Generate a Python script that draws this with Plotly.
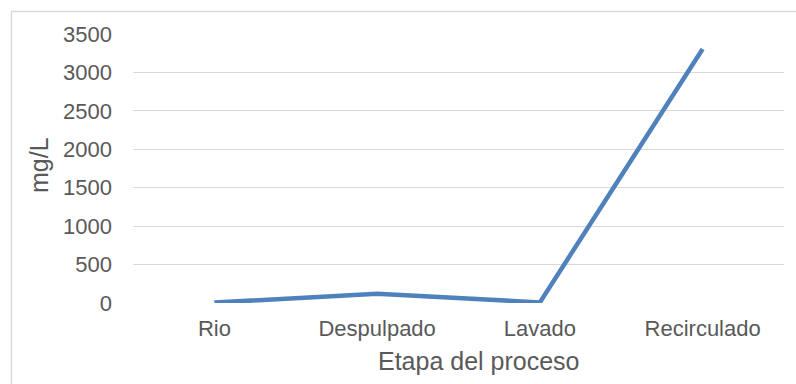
import plotly.graph_objects as go

# Process stages and measured concentration (mg/L)
etapas = ["Rio", "Despulpado", "Lavado", "Recirculado"]
concentracion = [5, 120, 8, 3305]
y_ticks = [0, 500, 1000, 1500, 2000, 2500, 3000, 3500]

W, H = 796, 384
L, R, T, B = 133, 12, 34, 81
pw, ph = W - L - R, H - T - B

def px_x(p):
    return (p - L) / pw

def px_y(p):
    return (H - B - p) / ph

fig = go.Figure()
fig.add_trace(go.Scatter(
    x=etapas, y=concentracion, mode="lines",
    line=dict(color="#4f81bd", width=4.5),
    hoverinfo="x+y", showlegend=False,
))

font_family = "Liberation Sans, Arial, sans-serif"
fig.update_layout(
    width=W, height=H,
    margin=dict(l=L, r=R, t=T, b=B, pad=0),
    paper_bgcolor="white", plot_bgcolor="white",
    font=dict(family=font_family, color="#595959", size=22),
    xaxis=dict(
        type="category", range=[-0.5, 3.5],
        showgrid=False, zeroline=False, showline=False,
        ticks="", ticklabelstandoff=10,
        tickfont=dict(size=22, color="#595959"),
    ),
    yaxis=dict(
        range=[0, 3500], tickvals=y_ticks,
        ticktext=[str(v) for v in y_ticks],
        showgrid=True, gridcolor="#d9d9d9", gridwidth=1,
        zeroline=False, showline=False, ticks="",
        ticklabelstandoff=20,
        tickfont=dict(size=22, color="#595959"),
    ),
    shapes=[dict(
        type="rect", xref="paper", yref="paper",
        x0=px_x(11.5), x1=px_x(W + 20), y0=px_y(H + 20), y1=px_y(11.5),
        line=dict(color="#d9d9d9", width=1.5), fillcolor="rgba(0,0,0,0)",
        layer="below",
    )],
    annotations=[
        dict(text="Etapa del proceso", xref="paper", yref="paper",
             x=px_x(479), y=px_y(361), xanchor="center", yanchor="middle",
             showarrow=False, font=dict(size=25, color="#595959")),
        dict(text="mg/L", xref="paper", yref="paper",
             x=px_x(39), y=px_y(165), xanchor="center", yanchor="middle",
             textangle=-90, showarrow=False,
             font=dict(size=25, color="#595959")),
    ],
)

fig.write_html("out.html")
